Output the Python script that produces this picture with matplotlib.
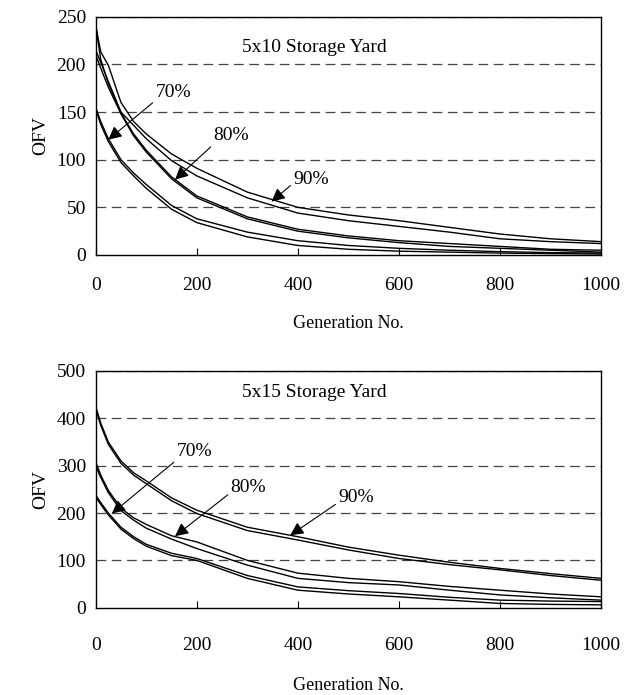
import matplotlib
matplotlib.use('Agg')
import matplotlib.pyplot as plt

plt.rcParams['font.family'] = 'Liberation Serif'
plt.rcParams['lines.scale_dashes'] = False

gen = [0, 10, 25, 50, 75, 100, 150, 200, 300, 400, 500, 600, 700, 800, 900, 1000]

# 5x10 storage yard
y10_90a = [241, 213, 199, 160, 140, 127, 106, 91, 66, 50, 42, 36, 29, 22, 17, 14]
y10_90b = [215, 202, 182, 150, 136, 122, 99, 83, 60, 44, 36, 30, 24, 17, 14, 12]
y10_80a = [241, 205, 180, 149, 127, 110, 82, 62, 40, 27, 20, 15, 12, 9, 6, 5]
y10_80b = [210, 196, 176, 148, 125, 108, 80, 60, 38, 25, 18, 13, 9, 7, 5, 3]
y10_70a = [155, 140, 122, 100, 86, 74, 52, 38, 24, 15, 10, 7, 5, 3.5, 2.5, 2]
y10_70b = [153, 137, 119, 97, 83, 70, 48, 34, 19, 10, 6, 4, 3, 2, 1.5, 1]

# 5x15 storage yard
y15_90a = [425, 390, 350, 310, 285, 268, 232, 206, 170, 150, 128, 111, 96, 83, 72, 62]
y15_90b = [420, 385, 345, 305, 280, 262, 226, 199, 163, 143, 122, 104, 91, 80, 68, 58]
y15_80a = [308, 280, 248, 210, 190, 176, 152, 139, 100, 73, 62, 55, 45, 37, 29, 23]
y15_80b = [300, 275, 243, 205, 185, 168, 145, 125, 90, 62, 53, 48, 37, 27, 21, 16]
y15_70a = [238, 222, 200, 170, 150, 134, 115, 104, 68, 44, 36, 30, 22, 16, 14, 13]
y15_70b = [234, 218, 196, 166, 146, 130, 110, 100, 62, 37, 29, 23, 16, 9, 7, 6]

fig = plt.figure(figsize=(6.35, 6.95), dpi=100)


def panel(ax, series, ymax, ystep, title, title_y, labels, tickpad, labelpad):
    for s in series:
        ax.plot(gen, s, color='black', lw=1.0)
    ax.set_xlim(0, 1000)
    ax.set_ylim(0, ymax)
    ax.set_xticks(range(0, 1001, 200))
    ax.set_yticks(range(0, ymax + 1, ystep))
    for v in range(ystep, ymax + 1, ystep):
        ax.axhline(v, color='#444444', lw=0.9, linestyle=(0, (7, 4)), zorder=0)
    ax.tick_params(axis='x', direction='in', length=5, pad=tickpad, labelsize=14)
    ax.tick_params(axis='y', length=0, pad=7, labelsize=14)
    for sp in ax.spines.values():
        sp.set_linewidth(1.0)
    ax.text(432, title_y, title, ha='center', va='center', fontsize=14)
    ax.set_ylabel('OFV', fontsize=14, labelpad=5)
    ax.set_xlabel('Generation No.', fontsize=13, labelpad=labelpad)
    for txt, xy, xytext, rel in labels:
        ax.annotate(txt, xy=xy, xytext=xytext, ha='left', va='bottom', fontsize=14,
                    arrowprops=dict(arrowstyle='-|>', color='black', lw=0.8,
                                    mutation_scale=20, relpos=rel, shrinkA=0, shrinkB=0))


ax1 = fig.add_axes([0.1507, 0.6331, 0.7958, 0.3429])
panel(ax1, [y10_90a, y10_90b, y10_80a, y10_80b, y10_70a, y10_70b], 250, 50,
      '5x10 Storage Yard', 218,
      [('70%', (25, 121), (118, 162), (0, 0)),
       ('80%', (157, 79), (233, 116), (0, 0)),
       ('90%', (348, 56), (391, 70), (0, 0.3))],
      tickpad=16, labelpad=15)

ax2 = fig.add_axes([0.1507, 0.1256, 0.7958, 0.3406])
panel(ax2, [y15_90a, y15_90b, y15_80a, y15_80b, y15_70a, y15_70b], 500, 100,
      '5x15 Storage Yard', 455,
      [('70%', (32, 199), (160, 312), (0, 0)),
       ('80%', (157, 151), (267, 236), (0, 0.2)),
       ('90%', (385, 153), (480, 215), (0, 0.2))],
      tickpad=21, labelpad=17)

fig.savefig('out.png', dpi=100)
